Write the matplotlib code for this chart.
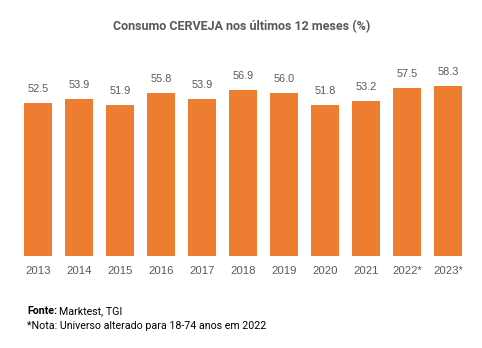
import matplotlib
matplotlib.use("Agg")
import matplotlib.pyplot as plt

years = ["2013", "2014", "2015", "2016", "2017", "2018", "2019", "2020", "2021", "2022*", "2023*"]
values = [52.5, 53.9, 51.9, 55.8, 53.9, 56.9, 56.0, 51.8, 53.2, 57.5, 58.3]

W, H = 482, 348
fig = plt.figure(figsize=(W / 100, H / 100), dpi=100)
left, right, bottom, top = 17.5, 468.5, 256, 66.6
ax = fig.add_axes([left / W, 1 - bottom / H, (right - left) / W, (bottom - top) / H])

x = list(range(len(years)))
ax.bar(x, values, width=0.683, color="#ED7D31")
ax.set_xlim(-0.5, len(years) - 0.5)
ax.set_ylim(0, 65)
for s in ax.spines.values():
    s.set_visible(False)
ax.set_yticks([])
ax.set_xticks(x)
ax.set_xticklabels(years, fontsize=8.2, color="#595959", family="Liberation Sans")
ax.tick_params(axis="x", length=0, pad=7)
for xi, v in zip(x, values):
    ax.annotate(f"{v:.1f}", (xi, v), xytext=(0, 6.5), textcoords="offset points",
                ha="center", va="bottom", fontsize=7.8, color="#595959",
                family="Liberation Sans")

fig.text(242 / W, 1 - 27 / H, "Consumo CERVEJA nos últimos 12 meses (%)",
         ha="center", va="center", fontsize=9.0, fontweight="bold", color="#595959",
         family="Roboto")

fig.canvas.draw()
r = fig.canvas.get_renderer()
t1 = fig.text(27 / W, 1 - 311 / H, "Fonte:", ha="left", va="center", fontsize=7.7,
              fontweight="bold", color="black", family="Roboto")
bb = t1.get_window_extent(renderer=r)
fig.text((bb.x1 + 2) / W, 1 - 311 / H, "Marktest, TGI", ha="left", va="center",
         fontsize=7.7, color="black", family="Roboto")
fig.text(27 / W, 1 - 326 / H, "*Nota: Universo alterado para 18-74 anos em 2022",
         ha="left", va="center", fontsize=7.7, color="black", family="Roboto")

fig.savefig("out.png", dpi=100)
